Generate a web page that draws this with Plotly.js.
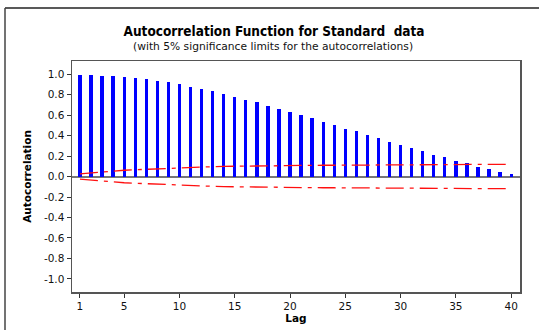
<!DOCTYPE html>
<html>
<head>
<meta charset="utf-8">
<script src="https://cdn.plot.ly/plotly-3.0.1.min.js"></script>
<style>html,body{margin:0;padding:0;background:#fff;}#chart{width:539px;height:330px;}</style>
</head>
<body>
<div id="chart"></div>
<script>
const lags = [1,2,3,4,5,6,7,8,9,10,11,12,13,14,15,16,17,18,19,20,21,22,23,24,25,26,27,28,29,30,31,32,33,34,35,36,37,38,39,40];
const acf = [0.995,0.990,0.985,0.978,0.972,0.963,0.951,0.932,0.919,0.902,0.873,0.850,0.834,0.808,0.776,0.750,0.724,0.691,0.659,0.632,0.600,0.568,0.532,0.500,0.463,0.441,0.405,0.372,0.340,0.307,0.278,0.249,0.213,0.190,0.154,0.128,0.093,0.073,0.044,0.021];
const upperLimit = [0.025,0.035,0.044,0.053,0.061,0.066,0.071,0.076,0.081,0.085,0.089,0.093,0.096,0.099,0.101,0.102,0.103,0.105,0.107,0.108,0.109,0.109,0.110,0.110,0.111,0.111,0.113,0.115,0.116,0.117,0.117,0.117,0.118,0.118,0.118,0.118,0.118,0.118,0.118,0.118];
const lowerLimit = upperLimit.map(v => -v);
const xTicks = [1,5,10,15,20,25,30,35,40];
const yTicks = [-1.0,-0.8,-0.6,-0.4,-0.2,0.0,0.2,0.4,0.6,0.8,1.0];

const traces = [
  {type:'bar', x:lags, y:acf, width:0.3, marker:{color:'#0000FF', line:{width:0}}, hoverinfo:'x+y'},
  {type:'scatter', mode:'lines', x:lags, y:upperLimit, line:{color:'#FF1010', width:1.3, dash:'18px,6px,4px,6px'}, hoverinfo:'skip'},
  {type:'scatter', mode:'lines', x:lags, y:lowerLimit, line:{color:'#FF1010', width:1.3, dash:'18px,6px,4px,6px'}, hoverinfo:'skip'}
];

const tickFont = {family:'DejaVu Sans, Verdana, sans-serif', size:10.5, color:'#111'};
const layout = {
  width:539, height:330,
  margin:{l:72, r:19, t:61, b:38, pad:0},
  paper_bgcolor:'#fff', plot_bgcolor:'#fff',
  showlegend:false,
  bargap:0,
  title:{text:'Autocorrelation Function for Standard  data', font:{family:'DejaVu Sans Condensed, DejaVu Sans, sans-serif', size:13.5, color:'#000', weight:'bold'}, x:0.451, xanchor:'center', y:1-31/330, yanchor:'middle', yref:'container', xref:'paper'},
  annotations:[
    {text:'(with 5% significance limits for the autocorrelations)', xref:'paper', yref:'paper', x:0.449, y:(292-46)/231, xanchor:'center', yanchor:'middle', showarrow:false, font:{family:'DejaVu Sans, Verdana, sans-serif', size:10.7, color:'#111'}}
  ],
  xaxis:{
    range:[0.28,40.8], tickmode:'array', tickvals:xTicks, ticktext:xTicks.map(String),
    showgrid:false, zeroline:false, showline:true, mirror:true, linecolor:'#555', linewidth:1.5,
    ticks:'outside', ticklen:4, tickwidth:1, tickcolor:'#333', tickfont:tickFont,
    title:{text:'Lag', font:{family:'DejaVu Sans, Verdana, sans-serif', size:10.5, color:'#000', weight:'bold'}, standoff:3}
  },
  yaxis:{
    range:[-1.127,1.127], tickmode:'array', tickvals:yTicks, ticktext:yTicks.map(v=>v.toFixed(1)),
    showgrid:false, zeroline:true, zerolinecolor:'#777', zerolinewidth:2,
    showline:true, mirror:true, linecolor:'#555', linewidth:1.5,
    ticks:'outside', ticklen:4, tickwidth:1, tickcolor:'#333', tickfont:tickFont,
    title:{text:'Autocorrelation', font:{family:'DejaVu Sans, Verdana, sans-serif', size:10.5, color:'#000', weight:'bold'}, standoff:10}
  },
  shapes:[
    {type:'line', xref:'paper', yref:'paper', x0:(5-72)/448, x1:(539-72)/448, y0:(292-8)/231, y1:(292-8)/231, line:{color:'#222', width:1.5}},
    {type:'line', xref:'paper', yref:'paper', x0:(5-72)/448, x1:(5-72)/448, y0:(292-8)/231, y1:(292-331)/231, line:{color:'#444', width:1.5}}
  ]
};
Plotly.newPlot('chart', traces, layout, {displayModeBar:false, staticPlot:true});
</script>
</body>
</html>
